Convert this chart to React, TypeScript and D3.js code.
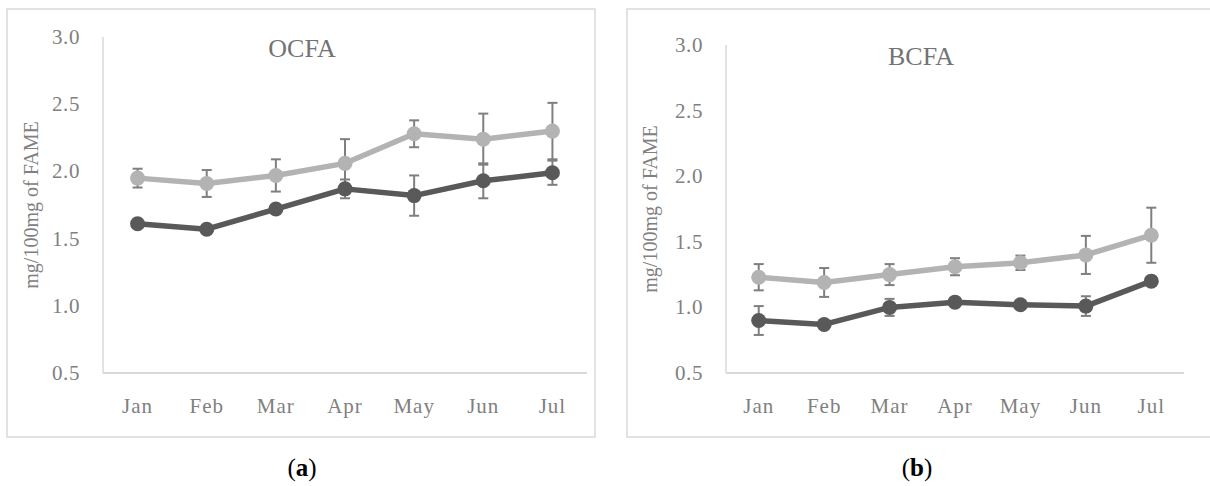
import * as d3 from 'd3';

// months on the x axis
const months = ['Jan', 'Feb', 'Mar', 'Apr', 'May', 'Jun', 'Jul'];
const yTicks = [0.5, 1.0, 1.5, 2.0, 2.5, 3.0];

// OCFA (panel a)
const ocfaLight = [1.95, 1.91, 1.97, 2.06, 2.28, 2.24, 2.3];
const ocfaLightErr = [0.07, 0.1, 0.12, 0.18, 0.1, 0.19, 0.21];
const ocfaDark = [1.61, 1.57, 1.72, 1.87, 1.82, 1.93, 1.99];
const ocfaDarkErr = [0.02, 0.02, 0.02, 0.07, 0.15, 0.13, 0.09];

// BCFA (panel b)
const bcfaLight = [1.23, 1.19, 1.25, 1.31, 1.34, 1.4, 1.55];
const bcfaLightErr = [0.1, 0.11, 0.08, 0.065, 0.055, 0.145, 0.21];
const bcfaDark = [0.9, 0.87, 1.0, 1.04, 1.02, 1.01, 1.2];
const bcfaDarkErr = [0.11, 0.02, 0.065, 0.02, 0.03, 0.075, 0.02];

const FONT = '"Liberation Serif", "Times New Roman", serif';
const LIGHT = '#b3b3b3';
const DARK = '#595959';
const ERR = '#7f7f7f';
const AXIS = '#d9d9d9';
const TEXT = '#808080';

interface PanelProps {
  title: string;
  tag: string;
  light: number[];
  lightErr: number[];
  dark: number[];
  darkErr: number[];
  box: { x0: number; x1: number; y0: number; y1: number };
  plot: { left: number; right: number; top: number; bottom: number };
  titleX: number;
  yTitleX: number;
  tagX: number;
}

function Panel(p: PanelProps) {
  const x = d3.scaleBand<string>().domain(months).range([p.plot.left, p.plot.right]);
  const y = d3.scaleLinear().domain([0.5, 3.0]).range([p.plot.bottom, p.plot.top]);
  const cx = (m: string) => x(m)! + x.bandwidth() / 2;
  const line = d3
    .line<number>()
    .x((_, i) => cx(months[i]))
    .y(d => y(d));

  const series = [
    { vals: p.light, err: p.lightErr, color: LIGHT },
    { vals: p.dark, err: p.darkErr, color: DARK },
  ];

  return (
    <g>
      <rect
        x={p.box.x0}
        y={p.box.y0}
        width={p.box.x1 - p.box.x0}
        height={p.box.y1 - p.box.y0}
        fill="#fff"
        stroke={AXIS}
        strokeWidth={1.5}
      />
      <line x1={p.plot.left} x2={p.plot.left} y1={p.plot.top} y2={p.plot.bottom} stroke={AXIS} strokeWidth={1.5} />
      <line x1={p.plot.left} x2={p.plot.right} y1={p.plot.bottom} y2={p.plot.bottom} stroke={AXIS} strokeWidth={2} />
      {yTicks.map(t => (
        <text
          key={t}
          x={p.plot.left - 23}
          y={y(t)}
          textAnchor="end"
          dominantBaseline="central"
          fontFamily={FONT}
          fontSize={21}
          letterSpacing={0.6}
          fill={TEXT}
        >
          {d3.format('.1f')(t)}
        </text>
      ))}
      {months.map(m => (
        <text
          key={m}
          x={cx(m)}
          y={413}
          textAnchor="middle"
          fontFamily={FONT}
          fontSize={21}
          letterSpacing={1}
          fill={TEXT}
        >
          {m}
        </text>
      ))}
      <text
        transform={`translate(${p.yTitleX},${(p.plot.top + p.plot.bottom) / 2}) rotate(-90)`}
        textAnchor="middle"
        dominantBaseline="central"
        fontFamily={FONT}
        fontSize={20}
        fill={TEXT}
      >
        mg/100mg of FAME
      </text>
      <text x={p.titleX} y={p.plot.top + 20} textAnchor="middle" fontFamily={FONT} fontSize={26} fill="#737373">
        {p.title}
      </text>
      {series.map((s, si) => (
        <g key={si}>
          {s.vals.map((v, i) => {
            const xx = cx(months[i]);
            const hi = y(v + s.err[i]);
            const lo = y(v - s.err[i]);
            return (
              <g key={i} stroke={ERR} strokeWidth={2}>
                <line x1={xx} x2={xx} y1={hi} y2={lo} />
                <line x1={xx - 5} x2={xx + 5} y1={hi} y2={hi} />
                <line x1={xx - 5} x2={xx + 5} y1={lo} y2={lo} />
              </g>
            );
          })}
          <path d={line(s.vals)!} fill="none" stroke={s.color} strokeWidth={5.5} strokeLinejoin="round" />
          {s.vals.map((v, i) => (
            <circle key={i} cx={cx(months[i])} cy={y(v)} r={7.5} fill={s.color} />
          ))}
        </g>
      ))}
      <text x={p.tagX} y={476} textAnchor="middle" fontFamily={FONT} fontSize={25} fill="#000">
        (<tspan fontWeight="bold">{p.tag}</tspan>)
      </text>
    </g>
  );
}

export default function App() {
  return (
    <svg width={1210} height={486} style={{ position: 'absolute', left: 0, top: 0, background: '#fff' }}>
      <rect width={1210} height={486} fill="#fff" />
      <Panel
        title="OCFA"
        tag="a"
        light={ocfaLight}
        lightErr={ocfaLightErr}
        dark={ocfaDark}
        darkErr={ocfaDarkErr}
        box={{ x0: 7, x1: 595, y0: 9, y1: 437 }}
        plot={{ left: 103, right: 587, top: 37, bottom: 373 }}
        titleX={302}
        yTitleX={31}
        tagX={302}
      />
      <Panel
        title="BCFA"
        tag="b"
        light={bcfaLight}
        lightErr={bcfaLightErr}
        dark={bcfaDark}
        darkErr={bcfaDarkErr}
        box={{ x0: 627, x1: 1214, y0: 9, y1: 437 }}
        plot={{ left: 726, right: 1184, top: 45, bottom: 373 }}
        titleX={921}
        yTitleX={650}
        tagX={917}
      />
    </svg>
  );
}
